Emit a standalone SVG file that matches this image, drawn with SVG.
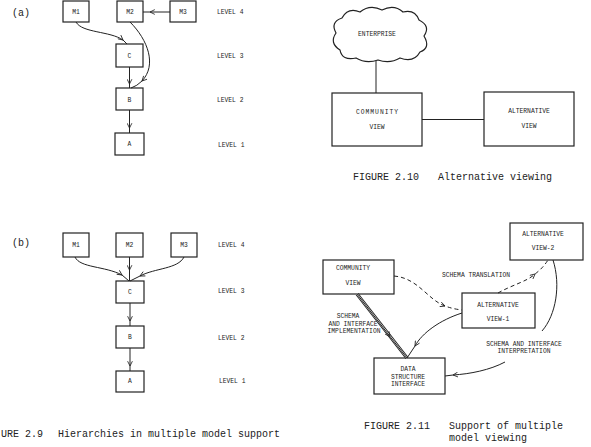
<svg xmlns="http://www.w3.org/2000/svg" width="591" height="447" viewBox="0 0 591 447">
<style>
.bg{fill:#fff}
.box{fill:#fff;stroke:#222;stroke-width:1.2}
.ln{fill:none;stroke:#222;stroke-width:1}
.dash{fill:none;stroke:#222;stroke-width:1;stroke-dasharray:4 3}
.lbl{font-family:"Liberation Mono","DejaVu Sans Mono",monospace;font-size:6.3px;fill:#222;text-anchor:middle}
.lv{font-family:"Liberation Mono","DejaVu Sans Mono",monospace;font-size:6.3px;fill:#222}
.cap{font-family:"Liberation Mono","DejaVu Sans Mono",monospace;font-size:10px;fill:#222}
</style>
<defs>
<marker id="v" viewBox="0 0 10 10" refX="9" refY="5" markerWidth="6" markerHeight="6" markerUnits="userSpaceOnUse" orient="auto">
<path d="M1,1 L9,5 L1,9" fill="none" stroke="#222" stroke-width="1.4"/>
</marker>
</defs>
<rect class="bg" x="0" y="0" width="591" height="447"/>

<!-- Figure 2.9 (a) -->
<text class="cap" x="12" y="16">(a)</text>
<g id="a-M1"><rect class="box" x="63" y="1" width="26" height="21"/><text class="lbl" x="76" y="14">M1</text></g>
<g id="a-M2"><rect class="box" x="117" y="1" width="26" height="21"/><text class="lbl" x="130" y="14">M2</text></g>
<g id="a-M3"><rect class="box" x="170" y="1" width="26" height="21"/><text class="lbl" x="183" y="14">M3</text></g>
<g id="a-C"><rect class="box" x="116" y="44" width="27" height="23"/><text class="lbl" x="129.5" y="58">C</text></g>
<g id="a-B"><rect class="box" x="116" y="88" width="27" height="22"/><text class="lbl" x="129.5" y="101.5">B</text></g>
<g id="a-A"><rect class="box" x="115" y="133" width="29" height="22"/><text class="lbl" x="129.5" y="146">A</text></g>
<g id="a-levels">
<text class="lv" x="217" y="14">LEVEL 4</text>
<text class="lv" x="217" y="58">LEVEL 3</text>
<text class="lv" x="217" y="102">LEVEL 2</text>
<text class="lv" x="218" y="147">LEVEL 1</text>
</g>

<!-- Figure 2.9 (b) -->
<text class="cap" x="12" y="246">(b)</text>
<g id="b-M1"><rect class="box" x="63" y="233" width="26" height="24"/><text class="lbl" x="76" y="247">M1</text></g>
<g id="b-M2"><rect class="box" x="116" y="233" width="27" height="24"/><text class="lbl" x="129.5" y="247">M2</text></g>
<g id="b-M3"><rect class="box" x="171" y="233" width="26" height="24"/><text class="lbl" x="184" y="247">M3</text></g>
<g id="b-C"><rect class="box" x="116" y="281" width="28" height="22"/><text class="lbl" x="130" y="294">C</text></g>
<g id="b-B"><rect class="box" x="116" y="326" width="28" height="22"/><text class="lbl" x="130" y="339">B</text></g>
<g id="b-A"><rect class="box" x="116" y="371" width="28" height="21"/><text class="lbl" x="130" y="383">A</text></g>
<g id="b-levels">
<text class="lv" x="218" y="247">LEVEL 4</text>
<text class="lv" x="218" y="293">LEVEL 3</text>
<text class="lv" x="218" y="340">LEVEL 2</text>
<text class="lv" x="219" y="383">LEVEL 1</text>
</g>
<text class="cap" x="1" y="437">URE 2.9</text>
<text class="cap" x="58" y="437">Hierarchies in multiple model support</text>

<!-- Figure 2.10 -->
<g id="enterprise">
<path class="box" d="M340,50 Q329,43 336,33 Q330,22 342,18 Q348,7 360,12 Q370,4 382,10 Q394,4 403,12 Q415,9 419,20 Q431,26 424,36 Q431,48 420,52 Q414,63 400,58 Q390,64 378,60 Q366,64 356,58 Q342,61 340,50 Z"/>
<text class="lbl" x="377" y="36">ENTERPRISE</text>
</g>
<g id="community-view">
<rect class="box" x="332" y="93" width="90" height="53"/>
<text class="lbl" x="377" y="114" textLength="42">COMMUNITY</text>
<text class="lbl" x="377" y="129">VIEW</text>
</g>
<g id="alternative-view">
<rect class="box" x="484" y="92" width="90" height="54"/>
<text class="lbl" x="529" y="113">ALTERNATIVE</text>
<text class="lbl" x="529" y="128">VIEW</text>
</g>
<text class="cap" x="353" y="180">FIGURE 2.10</text>
<text class="cap" x="438" y="180">Alternative viewing</text>

<!-- Figure 2.11 -->
<g id="alt-view-2">
<rect class="box" x="510" y="223" width="73" height="37"/>
<text class="lbl" x="543" y="236">ALTERNATIVE</text>
<text class="lbl" x="543" y="250">VIEW-2</text>
</g>
<g id="community-view-2">
<rect class="box" x="323" y="260" width="71" height="34"/>
<text class="lbl" x="353" y="270">COMMUNITY</text>
<text class="lbl" x="353" y="285">VIEW</text>
</g>
<g id="alt-view-1">
<rect class="box" x="462" y="293" width="73" height="35"/>
<text class="lbl" x="498" y="307">ALTERNATIVE</text>
<text class="lbl" x="498" y="321">VIEW-1</text>
</g>
<g id="data-structure-interface">
<rect class="box" x="374" y="358" width="71" height="36"/>
<text class="lbl" x="408" y="371">DATA</text>
<text class="lbl" x="408" y="378.5">STRUCTURE</text>
<text class="lbl" x="408" y="386">INTERFACE</text>
</g>
<g id="labels-2-11">
<text class="lbl" x="476" y="277">SCHEMA TRANSLATION</text>
<text class="lbl" x="348" y="318">SCHEMA</text>
<text class="lbl" x="353" y="326">AND INTERFACE</text>
<text class="lbl" x="354" y="333">IMPLEMENTATION</text>
<text class="lbl" x="524" y="346">SCHEMA AND INTERFACE</text>
<text class="lbl" x="524" y="353">INTERPRETATION</text>
</g>
<text class="cap" x="364" y="429">FIGURE 2.11</text>
<text class="cap" x="449" y="429">Support of multiple</text>
<text class="cap" x="449" y="441">model viewing</text>

<g id="connectors">
<!-- (a) -->
<path class="ln" marker-mid="url(#v)" d="M170,12 L150,12 L143,12"/>
<path class="ln" marker-mid="url(#v)" d="M76,22 C82,33 110,31 123,40 Q125,42 127,44"/>
<path class="ln" marker-mid="url(#v)" d="M130,22 C148,40 157,65 142,81 Q137,86 131,88"/>
<path class="ln" marker-mid="url(#v)" d="M129.5,67 L129.5,84 L129.5,88"/>
<path class="ln" marker-mid="url(#v)" d="M129.5,110 L129.5,128 L129.5,133"/>
<!-- (b) -->
<path class="ln" marker-mid="url(#v)" d="M75,257 C80,268 105,266 122,275 L129,281"/>
<path class="ln" marker-mid="url(#v)" d="M129.5,257 L129.5,270 L129.5,281"/>
<path class="ln" marker-mid="url(#v)" d="M184,257 C178,269 155,268 140,276 L130,281"/>
<path class="ln" marker-mid="url(#v)" d="M130,303 L130,321 L130,326"/>
<path class="ln" marker-mid="url(#v)" d="M130,348 L130,366 L130,371"/>
<!-- 2.10 -->
<path class="ln" d="M376,61 L376,93"/>
<path class="ln" d="M422,119.5 L484,119.5"/>
<!-- 2.11 -->
<path class="dash" marker-mid="url(#v)" d="M394,276 C418,278 428,300 445,306 Q453,309 462,310"/>
<path class="dash" marker-mid="url(#v)" d="M498,293 C512,285 528,281 535,274 Q543,268 548,260"/>
<path fill="none" stroke="#222" stroke-width="3.4" d="M357,294 L407,358"/>
<path fill="none" stroke="#fff" stroke-width="1.4" d="M357,294 L407,358"/>
<path class="ln" marker-mid="url(#v)" d="M357,294 L390,336.5 L407,358" stroke="none"/>
<path class="ln" marker-mid="url(#v)" d="M462,313 C440,320 422,333 415,346 L407,358"/>
<path class="ln" d="M553,260 C561,285 556,315 542,331"/>
<path class="ln" marker-mid="url(#v)" d="M505,362 C490,370 470,374 453,375 L445,376"/>
</g>
</svg>
